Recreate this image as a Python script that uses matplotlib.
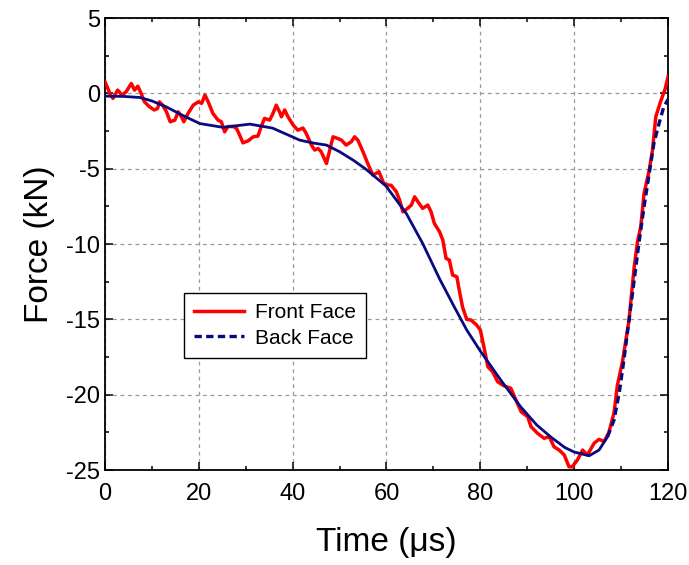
import numpy as np
import matplotlib
matplotlib.use("Agg")
from matplotlib import pyplot as plt
from matplotlib.ticker import MultipleLocator
from matplotlib.lines import Line2D

plt.rcParams['font.family'] = ['Liberation Sans', 'DejaVu Sans']
plt.rcParams['axes.unicode_minus'] = False

# front face force (kN) vs time (us)
front_t = [0.0, 1.2, 1.7, 2.7, 3.6, 4.5, 5.6, 6.3, 7.0, 7.7, 8.4, 9.5, 10.5, 11.2, 11.6, 12.3,
           13.1, 13.9, 14.9, 15.6, 16.3, 16.8, 17.7, 18.8, 19.9, 20.6, 21.3, 22.0, 23.0, 24.1,
           24.8, 25.5, 26.2, 27.3, 28.0, 28.7, 29.4, 30.5, 31.6, 32.6, 33.3, 34.0, 35.1, 35.8,
           36.5, 37.2, 37.6, 38.3, 39.0, 40.1, 41.1, 42.2, 42.9, 44.0, 44.7, 45.4, 46.1, 47.2,
           47.9, 48.6, 49.6, 50.4, 51.4, 52.5, 53.2, 53.9, 55.0, 56.0, 57.1, 58.4, 59.4, 60.3,
           61.0, 62.1, 62.8, 63.5, 64.5, 65.3, 66.0, 66.7, 67.7, 68.8, 69.5, 70.2, 71.3, 72.0,
           72.7, 73.4, 74.1, 75.0, 75.5, 76.2, 77.1, 78.0, 79.2, 80.0, 80.9, 81.6, 82.6, 83.7,
           85.1, 86.5, 87.6, 88.7, 90.1, 90.8, 92.2, 93.6, 94.7, 95.7, 96.8, 97.9, 98.9, 99.6,
           100.7, 101.8, 102.8, 104.3, 105.3, 106.4, 107.4, 108.5, 109.2, 110.3, 111.7, 112.8,
           113.5, 114.2, 114.9, 116.0, 116.7, 117.4, 118.4, 119.4, 120.0]
front_f = [0.77, -0.11, -0.33, 0.22, -0.11, 0.1, 0.66, 0.22, 0.48, 0.0, -0.56, -0.89, -1.1, -1.0,
           -0.56, -0.78, -1.22, -1.88, -1.77, -1.22, -1.55, -1.88, -1.33, -0.78, -0.56, -0.66,
           -0.11, -0.56, -1.33, -1.77, -1.88, -2.55, -2.2, -2.2, -2.3, -2.77, -3.28, -3.15, -2.88,
           -2.83, -2.2, -1.66, -1.77, -1.33, -0.78, -1.22, -1.55, -1.1, -1.55, -2.1, -2.44, -2.3,
           -2.66, -3.43, -3.76, -3.65, -3.88, -4.65, -3.76, -2.88, -2.99, -3.1, -3.43, -3.21,
           -2.88, -3.1, -3.88, -4.65, -5.42, -5.2, -5.97, -6.08, -6.1, -6.53, -7.08, -7.86, -7.63,
           -7.41, -6.86, -7.19, -7.63, -7.41, -7.86, -8.63, -9.18, -9.73, -10.95, -11.06, -12.06,
           -12.17, -13.05, -14.16, -15.0, -15.04, -15.37, -15.7, -17.03, -18.14, -18.47, -19.14,
           -19.42, -19.57, -20.35, -21.13, -21.46, -22.12, -22.56, -22.89, -22.79, -23.45, -23.67,
           -24.0, -24.78, -24.78, -24.33, -23.67, -24.0, -23.2, -22.96, -23.1, -22.5, -21.2,
           -19.4, -17.8, -15.04, -11.5, -9.85, -8.85, -6.64, -5.09, -3.76, -1.55, -0.56, 0.3, 1.1]

# back face
back_t = [0.0, 4.0, 7.4, 10.0, 13.1, 16.5, 20.2, 25.1, 30.9, 35.7, 41.5, 44.5, 47.2, 50.0, 53.0,
          55.7, 59.9, 64.2, 67.7, 71.3, 74.5, 77.1, 80.0, 84.3, 88.6, 92.0, 95.0, 98.0, 100.0,
          103.2, 105.3, 107.1, 108.5, 109.6, 110.6, 111.7, 112.8, 113.8, 114.9, 116.0, 117.0,
          118.1, 119.1, 120.0]
back_f = [-0.18, -0.2, -0.27, -0.5, -0.9, -1.45, -2.0, -2.25, -2.04, -2.3, -3.1, -3.3, -3.43,
          -3.87, -4.45, -5.05, -6.15, -7.96, -9.95, -12.3, -14.2, -15.7, -17.1, -19.0, -20.8,
          -22.0, -22.8, -23.5, -23.8, -24.05, -23.67, -22.79, -21.68, -19.9, -17.7, -15.04,
          -12.39, -9.95, -7.52, -5.31, -3.32, -1.99, -0.89, -0.4]

red = '#ff0000'
navy = '#0a0a80'

fig = plt.figure(figsize=(6.89, 5.65), dpi=100)
ax = fig.add_axes([0.1524, 0.168, 0.8171, 0.800])

ax.plot(front_t, front_f, color=red, lw=2.5, zorder=3)
split = back_t.index(107.1)
ax.plot(back_t[:split + 1], back_f[:split + 1], color=navy, lw=2.0, zorder=4)
ax.plot(back_t[split:], back_f[split:], color=navy, lw=2.4, ls=(0, (2.2, 1.3)), zorder=4)

ax.set_xlim(0, 120)
ax.set_ylim(-25, 5)
ax.xaxis.set_major_locator(MultipleLocator(20))
ax.xaxis.set_minor_locator(MultipleLocator(10))
ax.yaxis.set_major_locator(MultipleLocator(5))
ax.yaxis.set_minor_locator(MultipleLocator(2.5))
ax.tick_params(which='both', direction='in', top=True, right=True, labelsize=17, width=1.1)
ax.tick_params(which='major', length=6)
ax.tick_params(which='minor', length=3)
ax.tick_params(axis='x', pad=9)
for s in ax.spines.values():
    s.set_linewidth(1.3)

ax.grid(True, which='major', color='#999999', ls=(0, (3, 3)), lw=0.9)

ax.set_xlabel('Time (μs)', fontsize=24, labelpad=16)
ax.set_ylabel('Force (kN)', fontsize=24, labelpad=8)

handles = [Line2D([], [], color=red, lw=2.5),
           Line2D([], [], color=navy, lw=2.4, ls=(0, (2.2, 1.3)))]
leg = ax.legend(handles, ['Front Face', 'Back Face'], loc='lower left',
                bbox_to_anchor=(0.14, 0.248), borderaxespad=0, fontsize=15,
                fancybox=False, framealpha=1, edgecolor='black', handlelength=2.4,
                labelspacing=0.3, borderpad=0.5, handletextpad=0.5)
leg.get_frame().set_linewidth(1.0)

fig.savefig('out.png', dpi=100)
